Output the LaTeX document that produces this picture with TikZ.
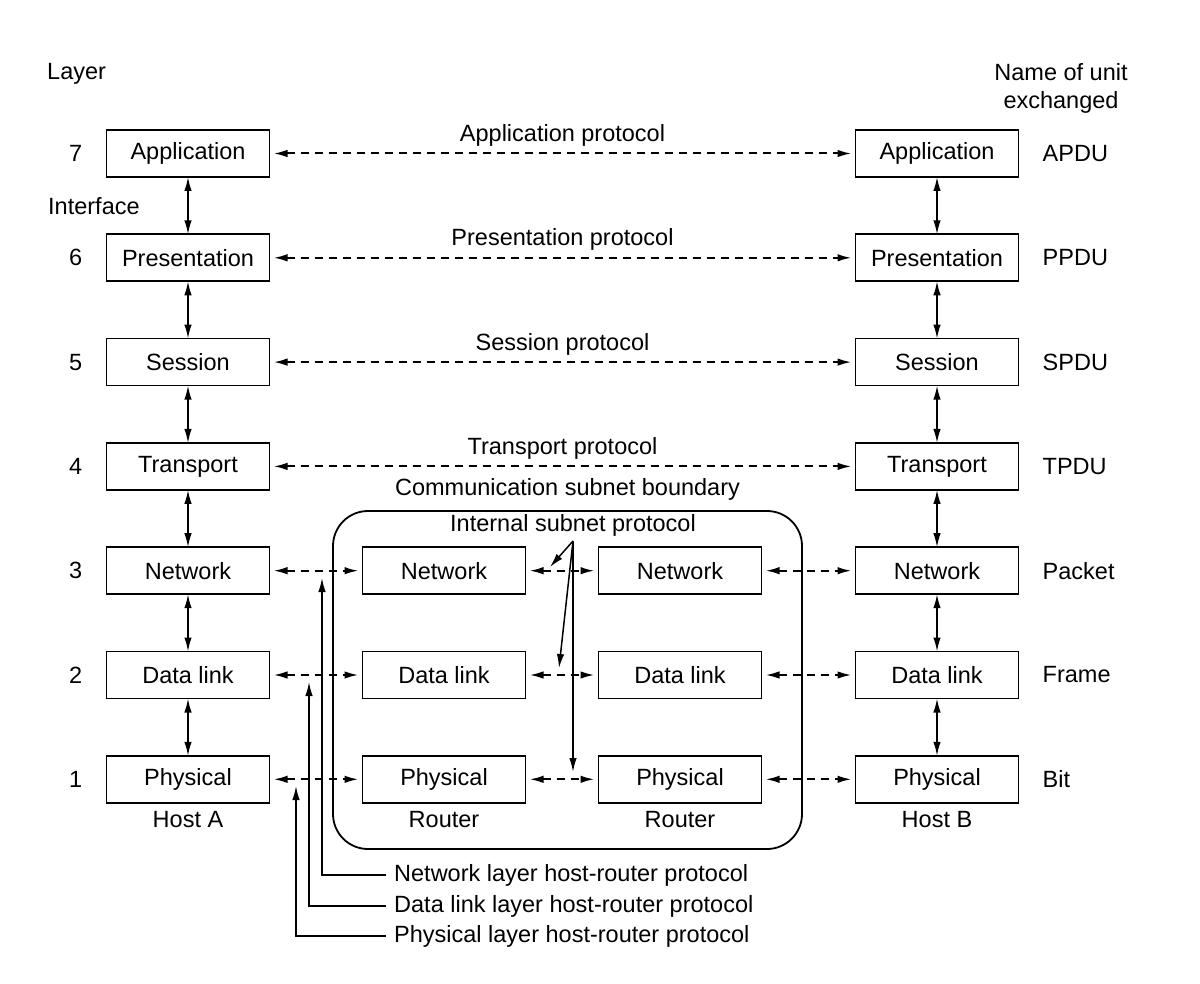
\documentclass[tikz,border=0pt]{standalone}
\usepackage{fontspec}
\setmainfont{Liberation Sans}
\usetikzlibrary{positioning,arrows.meta}

\tikzset{
  layerbox/.style={draw, line width=1.7pt, minimum width=163pt, minimum height=47pt, inner sep=0pt, outer sep=0pt},
  plain/.style={inner sep=0pt},
  iface/.style={{Latex[length=14pt,width=7.5pt]}-{Latex[length=14pt,width=7.5pt]}, line width=1.6pt},
  peer/.style={iface, line width=2pt, dash pattern=on 8pt off 6pt, shorten <=4pt, shorten >=4pt},
  pointer/.style={-{Latex[length=14pt,width=7.5pt]}, line width=1.5pt},
}

\begin{document}
\begin{tikzpicture}[x=1pt, y=1pt, font=\fontsize{23.5}{28}\selectfont, node distance=57.3pt]
\useasboundingbox (0,0) rectangle (1200,-984);

% subnet boundary
\node [draw, line width=1.8pt, rounded corners=35pt, minimum width=469pt, minimum height=338pt] (subnet) at (567.5,-680) {};
\node [plain, above=10pt of subnet.north] (subnetlbl) {Communication subnet boundary};

% host A
\node [layerbox] (a7) at (188,-153.5) {Application};
\node [layerbox, below=of a7] (a6) {Presentation};
\node [layerbox, below=of a6] (a5) {Session};
\node [layerbox, below=of a5] (a4) {Transport};
\node [layerbox, below=of a4] (a3) {Network};
\node [layerbox, below=of a3] (a2) {Data link};
\node [layerbox, below=of a2] (a1) {Physical};
\node [plain, below=8pt of a1] (hostA) {Host A};

% host B
\node [layerbox] (b7) at (937,-153.5) {Application};
\node [layerbox, below=of b7] (b6) {Presentation};
\node [layerbox, below=of b6] (b5) {Session};
\node [layerbox, below=of b5] (b4) {Transport};
\node [layerbox, below=of b4] (b3) {Network};
\node [layerbox, below=of b3] (b2) {Data link};
\node [layerbox, below=of b2] (b1) {Physical};
\node [plain, below=8pt of b1] (hostB) {Host B};

% routers
\node [layerbox, right=93pt of a3] (r3) {Network};
\node [layerbox, below=of r3] (r2) {Data link};
\node [layerbox, below=of r2] (r1) {Physical};
\node [plain, below=8pt of r1] (routerA) {Router};
\node [layerbox, right=73pt of r3] (s3) {Network};
\node [layerbox, below=of s3] (s2) {Data link};
\node [layerbox, below=of s2] (s1) {Physical};
\node [plain, below=8pt of s1] (routerB) {Router};

% headings, layer numbers and unit names
\node [plain, anchor=west] (layerhdr) at (47,-74) {Layer};
\node [plain, align=center] (unithdr) at (1061,-88) {Name of unit\\exchanged};
\node [plain, anchor=west] (ifacelbl) at (48,-206) {Interface};
\node [plain, left=24pt of a7] (n7) {7};
\node [plain, left=24pt of a6] (n6) {6};
\node [plain, left=24pt of a5] (n5) {5};
\node [plain, left=24pt of a4] (n4) {4};
\node [plain, left=24pt of a3] (n3) {3};
\node [plain, left=24pt of a2] (n2) {2};
\node [plain, left=24pt of a1] (n1) {1};
\node [plain, right=24pt of b7] (u7) {APDU};
\node [plain, right=24pt of b6] (u6) {PPDU};
\node [plain, right=24pt of b5] (u5) {SPDU};
\node [plain, right=24pt of b4] (u4) {TPDU};
\node [plain, right=24pt of b3] (u3) {Packet};
\node [plain, right=24pt of b2] (u2) {Frame};
\node [plain, right=24pt of b1] (u1) {Bit};

% interfaces
\draw [iface] (a7) -- (a6);
\draw [iface] (a6) -- (a5);
\draw [iface] (a5) -- (a4);
\draw [iface] (a4) -- (a3);
\draw [iface] (a3) -- (a2);
\draw [iface] (a2) -- (a1);
\draw [iface] (b7) -- (b6);
\draw [iface] (b6) -- (b5);
\draw [iface] (b5) -- (b4);
\draw [iface] (b4) -- (b3);
\draw [iface] (b3) -- (b2);
\draw [iface] (b2) -- (b1);

% peer protocols
\draw [peer] (a7) -- node [plain, above=6pt] {Application protocol} (b7);
\draw [peer] (a6) -- node [plain, above=6pt] {Presentation protocol} (b6);
\draw [peer] (a5) -- node [plain, above=6pt] {Session protocol} (b5);
\draw [peer] (a4) -- node [plain, above=6pt] {Transport protocol} (b4);
\draw [peer] (a3) -- (r3);
\draw [peer] (a2) -- (r2);
\draw [peer] (a1) -- (r1);
\draw [peer] (r3) -- (s3);
\draw [peer] (r2) -- (s2);
\draw [peer] (r1) -- (s1);
\draw [peer] (s3) -- (b3);
\draw [peer] (s2) -- (b2);
\draw [peer] (s1) -- (b1);

% internal subnet protocol
\node [plain] (intlbl) at (573,-525) {Internal subnet protocol};
\coordinate (fan) at (573,-541);
\coordinate (int3) at (550,-567);
\coordinate (int2) at (559,-668);
\coordinate (int1) at (573,-772);
\draw [pointer] (fan) -- (int3);
\draw [pointer] (fan) -- (int2);
\draw [pointer] (fan) -- (int1);

% host-router protocols
\node [plain, anchor=west] (netlbl) at (394,-875) {Network layer host-router protocol};
\node [plain, anchor=west] (dllbl) at (394,-906) {Data link layer host-router protocol};
\node [plain, anchor=west] (phylbl) at (394,-936) {Physical layer host-router protocol};
\coordinate (nettip) at (322,-578);
\coordinate (dltip) at (309,-682);
\coordinate (phytip) at (296,-786);
\draw [pointer, shorten <=8pt] (netlbl.west) -| (nettip);
\draw [pointer, shorten <=8pt] (dllbl.west) -| (dltip);
\draw [pointer, shorten <=8pt] (phylbl.west) -| (phytip);
\end{tikzpicture}
\end{document}
